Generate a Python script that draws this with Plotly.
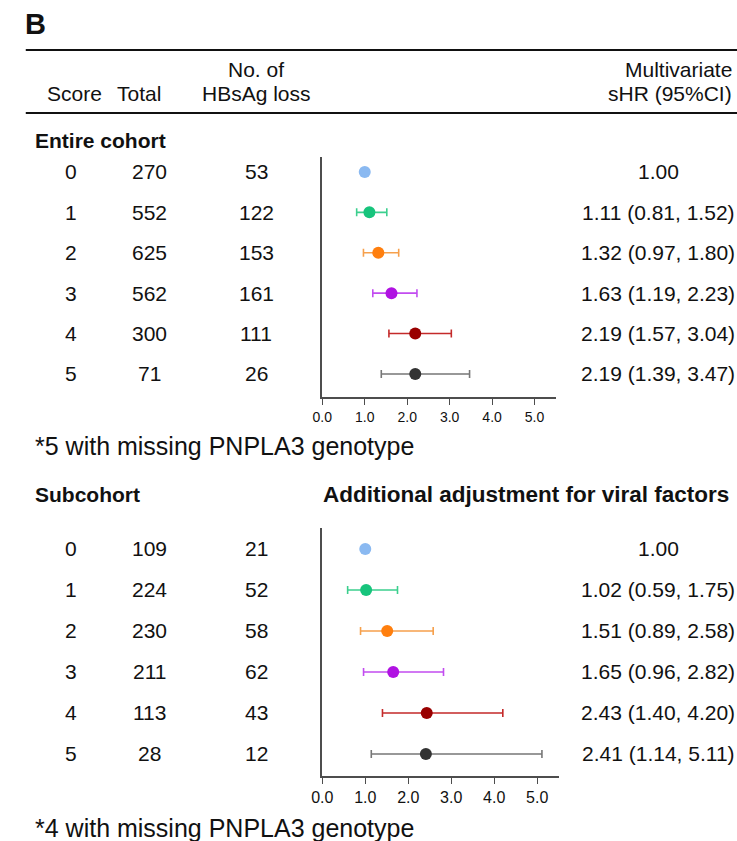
import plotly.graph_objects as go

W, H = 737, 841

scores = ["0", "1", "2", "3", "4", "5"]
colors_marker = ["#8ab9f1", "#17c47c", "#ff7f0e", "#b012e2", "#990000", "#333333"]
colors_err = ["#8ab9f1", "#3ccf8e", "#f6a04c", "#c24cf0", "#c42a2a", "#777777"]

# Entire cohort
total_a = [270, 552, 625, 562, 300, 71]
loss_a = [53, 122, 153, 161, 111, 26]
hr_a = [1.00, 1.11, 1.32, 1.63, 2.19, 2.19]
lo_a = [None, 0.81, 0.97, 1.19, 1.57, 1.39]
hi_a = [None, 1.52, 1.80, 2.23, 3.04, 3.47]

# Subcohort
total_b = [109, 224, 230, 211, 113, 28]
loss_b = [21, 52, 58, 62, 43, 12]
hr_b = [1.00, 1.02, 1.51, 1.65, 2.43, 2.41]
lo_b = [None, 0.59, 0.89, 0.96, 1.40, 1.14]
hi_b = [None, 1.75, 2.58, 2.82, 4.20, 5.11]

tick_vals = [0, 1, 2, 3, 4, 5]
tick_text = ["0.0", "1.0", "2.0", "3.0", "4.0", "5.0"]

FONT = "Liberation Sans, Arial, sans-serif"


def px(x):
    return x / W


def py(y):
    return 1 - y / H


def fmt(h, l, u):
    if l is None:
        return f"{h:.2f}"
    return f"{h:.2f} ({l:.2f}, {u:.2f})"


fig = go.Figure()

for panel, (hr, lo, hi, xa, ya) in enumerate([(hr_a, lo_a, hi_a, "x", "y"), (hr_b, lo_b, hi_b, "x2", "y2")]):
    for i in range(6):
        ep = [] if lo[i] is None else [hi[i] - hr[i]]
        em = [] if lo[i] is None else [hr[i] - lo[i]]
        fig.add_trace(go.Scatter(
            x=[hr[i]], y=[i], xaxis=xa, yaxis=ya, mode="markers",
            marker=dict(color=colors_marker[i], size=12),
            error_x=dict(type="data", array=ep, arrayminus=em, visible=lo[i] is not None,
                         color=colors_err[i], thickness=1.6, width=4),
            showlegend=False, hoverinfo="skip"))

axis_common = dict(showgrid=False, zeroline=False, showline=True, linecolor="#4d4d4d", linewidth=1.5)

fig.update_layout(
    width=W, height=H, margin=dict(l=0, r=0, t=0, b=0),
    paper_bgcolor="white", plot_bgcolor="white",
    font=dict(family=FONT, color="#111111"),
    xaxis=dict(domain=[px(316), px(553)], range=[0, 5.5], anchor="y", tickvals=tick_vals, ticktext=tick_text,
               ticks="outside", ticklen=6, tickcolor="#4d4d4d", tickfont=dict(size=14, family=FONT), **axis_common),
    yaxis=dict(domain=[py(397), py(157)], range=[5.57, -0.37], anchor="x", showticklabels=False, ticks="",
               **axis_common),
    xaxis2=dict(domain=[px(316), px(556)], range=[0, 5.5], anchor="y2", tickvals=tick_vals, ticktext=tick_text,
                ticks="outside", ticklen=6, tickcolor="#4d4d4d", tickfont=dict(size=16, family=FONT), **axis_common),
    yaxis2=dict(domain=[py(776), py(528)], range=[5.537, -0.512], anchor="x2", showticklabels=False, ticks="",
                **axis_common),
)

ann = []


def txt(x, y, s, size=21, bold=False, xanchor="center", xref="paper", yref="paper"):
    ann.append(dict(x=x, y=y, xref=xref, yref=yref, text=(f"<b>{s}</b>" if bold else s), showarrow=False,
                    xanchor=xanchor, yanchor="middle", font=dict(size=size, family=FONT, color="#111111")))


# panel letter and headers
txt(px(12), py(24), "B", size=29, bold=True, xanchor="left")
txt(px(64), py(93), "Score")
txt(px(130), py(93), "Total")
txt(px(249), py(70), "No. of")
txt(px(249), py(93), "HBsAg loss")
txt(px(734), py(70), "Multivariate", xanchor="right")
txt(px(734), py(93), "sHR (95%CI)", xanchor="right")

txt(px(22), py(141), "Entire cohort", size=21, bold=True, xanchor="left")
txt(px(22), py(446), "*5 with missing PNPLA3 genotype", size=25, xanchor="left")
txt(px(22), py(494), "Subcohort", size=21, bold=True, xanchor="left")
txt(px(731), py(494), "Additional adjustment for viral factors", size=22.5, bold=True, xanchor="right")
txt(px(22), py(828), "*4 with missing PNPLA3 genotype", size=25, xanchor="left")

for yref, tot, los, hr, lo, hi in [("y", total_a, loss_a, hr_a, lo_a, hi_a), ("y2", total_b, loss_b, hr_b, lo_b, hi_b)]:
    for i in range(6):
        txt(px(61), i, scores[i], yref=yref)
        txt(px(141), i, str(tot[i]), yref=yref)
        txt(px(249), i, str(los[i]), yref=yref)
        txt(px(657), i, fmt(hr[i], lo[i], hi[i]), yref=yref)

fig.update_layout(annotations=ann)

fig.update_layout(shapes=[
    dict(type="line", xref="paper", yref="paper", x0=px(15), x1=1, y0=py(50), y1=py(50),
         line=dict(color="#111111", width=2)),
    dict(type="line", xref="paper", yref="paper", x0=px(15), x1=1, y0=py(113), y1=py(113),
         line=dict(color="#111111", width=2)),
])

fig.write_html("out.html", config={"displayModeBar": False},
               post_script="document.body.style.margin='0';document.body.style.overflow='hidden';")
